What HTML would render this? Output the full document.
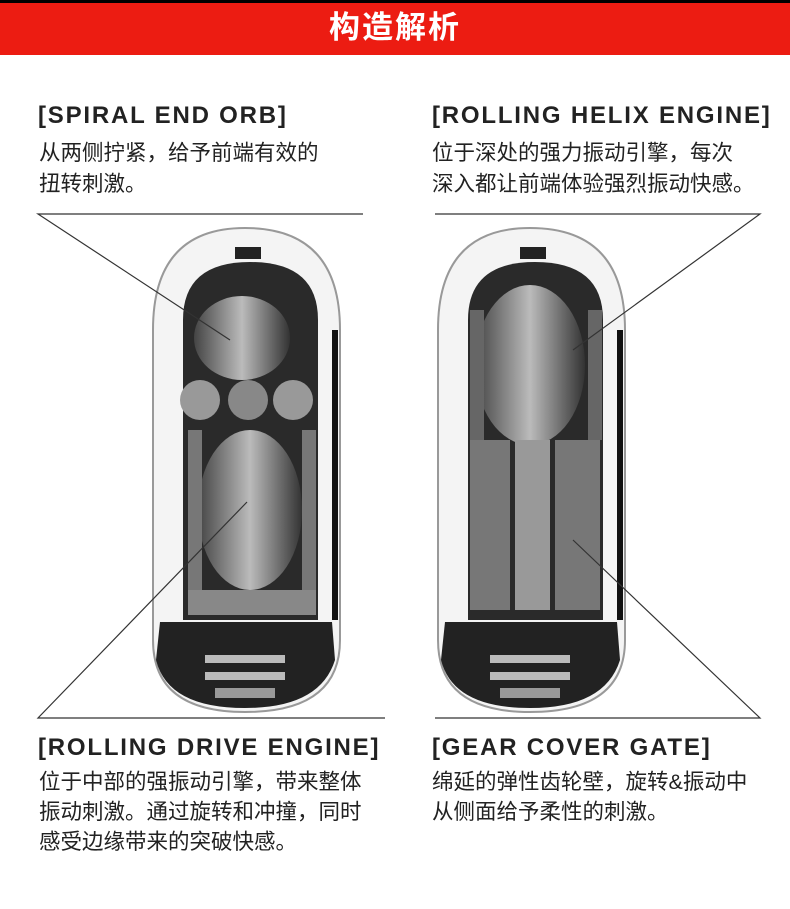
<!DOCTYPE html>
<html><head><meta charset="utf-8"><style>
body{margin:0;width:790px;height:909px;background:#fff;position:relative;overflow:hidden;font-family:"Liberation Sans","Noto Sans CJK SC",sans-serif}
.bar{position:absolute;left:0;top:0;width:790px;height:55px;background:#ec1c12;border-top:3px solid #000;box-sizing:border-box}
.bar div{color:#fff;font-size:31px;font-weight:bold;text-align:center;line-height:50px;letter-spacing:2px}
.h{position:absolute;font-size:24px;font-weight:bold;color:#222;letter-spacing:1.8px;white-space:nowrap}
.t{position:absolute;font-size:21.5px;color:#222;line-height:31px;white-space:nowrap}
svg{position:absolute;left:0;top:0}
</style></head><body>
<div class="bar"><div>构造解析</div></div>
<div class="h" style="left:38px;top:102px">[SPIRAL END ORB]</div>
<div class="t" style="left:39px;top:138px">从两侧拧紧，给予前端有效的<br>扭转刺激。</div>
<div class="h" style="left:432px;top:102px">[ROLLING HELIX ENGINE]</div>
<div class="t" style="left:432px;top:138px">位于深处的强力振动引擎，每次<br>深入都让前端体验强烈振动快感。</div>
<div class="h" style="left:38px;top:734px">[ROLLING DRIVE ENGINE]</div>
<div class="t" style="left:39px;top:767px;line-height:30px">位于中部的强振动引擎，带来整体<br>振动刺激。通过旋转和冲撞，同时<br>感受边缘带来的突破快感。</div>
<div class="h" style="left:432px;top:734px">[GEAR COVER GATE]</div>
<div class="t" style="left:432px;top:767px;line-height:30px">绵延的弹性齿轮壁，旋转&amp;振动中<br>从侧面给予柔性的刺激。</div>
<svg width="790" height="909">
<defs>
<linearGradient id="g" x1="0" x2="1"><stop offset="0" stop-color="#444"/><stop offset=".5" stop-color="#bbb"/><stop offset="1" stop-color="#333"/></linearGradient>
</defs>
<g id="cap">
<path d="M153,330 Q153,228 245,228 Q340,228 340,330 L340,640 Q340,712 245,712 Q153,712 153,640 Z" fill="#f4f4f4" stroke="#999" stroke-width="2"/>
<rect x="332" y="330" width="6" height="290" fill="#111"/>
<path d="M183,320 Q183,262 250,262 Q318,262 318,320 L318,620 L183,620 Z" fill="#2a2a2a"/>
<path d="M160,622 L332,622 L335,660 Q320,708 245,708 Q168,708 156,660 Z" fill="#222"/>
<rect x="205" y="655" width="80" height="8" fill="#bbb"/><rect x="205" y="672" width="80" height="8" fill="#bbb"/><rect x="215" y="688" width="60" height="10" fill="#999"/>
<rect x="235" y="247" width="26" height="12" fill="#222"/>
</g>
<ellipse cx="242" cy="338" rx="48" ry="42" fill="url(#g)"/>
<circle cx="200" cy="400" r="20" fill="#999"/><circle cx="248" cy="400" r="20" fill="#888"/><circle cx="293" cy="400" r="20" fill="#999"/>
<ellipse cx="250" cy="510" rx="52" ry="80" fill="url(#g)"/>
<rect x="188" y="430" width="14" height="160" fill="#777"/><rect x="302" y="430" width="14" height="160" fill="#777"/>
<rect x="188" y="590" width="128" height="25" fill="#888"/>
<use href="#cap" x="285"/>
<ellipse cx="530" cy="365" rx="55" ry="80" fill="url(#g)"/>
<rect x="470" y="440" width="40" height="170" fill="#777"/><rect x="515" y="440" width="35" height="170" fill="#999"/><rect x="555" y="440" width="45" height="170" fill="#777"/>
<rect x="470" y="310" width="14" height="130" fill="#666"/><rect x="588" y="310" width="14" height="130" fill="#666"/>
<g stroke="#333" stroke-width="1.2" fill="none">
<polyline points="363,214 38,214 230,340"/>
<polyline points="435,214 760,214 573,350"/>
<polyline points="385,718 38,718 247,502"/>
<polyline points="435,718 760,718 573,540"/>
</g>
</svg>
</body></html>
